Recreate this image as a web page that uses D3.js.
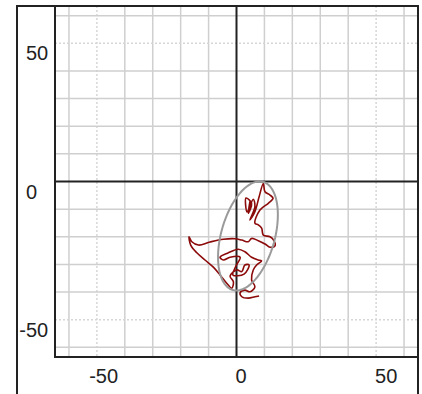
<!DOCTYPE html>
<html>
<head>
<meta charset="utf-8">
<script src="https://cdn.jsdelivr.net/npm/d3@7"></script>
<style>
  html, body { margin: 0; padding: 0; background: #fff; }
  svg { display: block; }
  text { font-family: "Liberation Sans", Arial, sans-serif; fill: #222; }
</style>
</head>
<body>
<svg id="chart" width="422" height="394"></svg>
<script>
// Centre-of-pressure trace (x, y) in mm
const traceX = [4.8, 4.2, 5.4, 3.4, 3.8, 6.0, 6.6, 4.8, 6.6, 8.1, 9.6, 10.2, 12.0, 13.1, 11.4, 8.4, 6.6, 7.8, 9.0, 9.6, 12.0, 13.4, 13.8, 12.0, 10.2, 7.8, 5.4, 4.2, 1.9, -0.5, -4.7, -9.5, -13.6, -16.0, -17.0, -16.4, -14.2, -11.3, -8.3, -5.9, -3.5, -1.7, -1.1, -2.3, 0.1, 1.9, 3.0, 4.5, 2.7, -1.3, -0.2, 1.3, -2.3, -4.7, -5.9, -2.9, 0.6, 3.0, 5.4, 7.8, 9.0, 7.2, 6.0, 5.4, 6.6, 4.8, 3.0, 1.3, 1.9, 4.2, 6.6, 8.1];
const traceY = [-7.3, -11.5, -7.9, -6.0, -11.0, -6.4, -9.1, -13.9, -10.9, -5.5, -0.7, -3.7, -4.9, -6.1, -7.9, -10.3, -15.1, -15.7, -16.9, -19.4, -20.0, -21.4, -23.3, -23.8, -22.6, -21.4, -20.6, -21.8, -21.2, -20.7, -20.9, -21.9, -23.0, -21.8, -20.0, -23.0, -25.8, -28.4, -31.0, -33.8, -36.8, -38.6, -36.3, -34.2, -32.0, -32.6, -30.2, -30.2, -33.5, -33.8, -30.6, -27.4, -27.4, -28.4, -27.4, -25.8, -24.5, -25.4, -27.4, -28.4, -28.7, -30.2, -32.0, -35.6, -38.1, -39.9, -39.3, -40.2, -41.7, -42.2, -41.7, -41.4];

// Confidence ellipse: centre, semi-axes and tilt (degrees from the vertical)
const ellipseCenter = [4.1, -19.7];
const ellipseAxes = [9.6, 20.3];
const ellipseTilt = [15.4];

// Axis ticks
const gridValues = [-60, -50, -40, -30, -20, -10, 0, 10, 20, 30, 40, 50, 60];
const labelValues = [-50, 0, 50];
const labelText = ["-50", "0", "50"];

const svg = d3.select("#chart");
const pLeft = 55, pRight = 418, pTop = 6, pBottom = 357;

const x = d3.scaleLinear().domain([-65, 65]).range([pLeft, pRight]);
const y = d3.scaleLinear().domain([-63.5, 63.5]).range([pBottom, pTop]);

// grid
const grid = svg.append("g");
const minor = gridValues.filter(v => v !== 0);
grid.selectAll("line.v").data(minor).join("line").attr("class", "v")
  .attr("x1", d => x(d)).attr("x2", d => x(d))
  .attr("y1", pTop).attr("y2", pBottom)
  .attr("stroke", d => Math.abs(d) === 50 ? "#d6d6d6" : "#cfcfcf")
  .attr("stroke-width", 1.5)
  .attr("stroke-dasharray", d => Math.abs(d) === 50 ? "2,2" : null);
grid.selectAll("line.h").data(minor).join("line").attr("class", "h")
  .attr("y1", d => y(d)).attr("y2", d => y(d))
  .attr("x1", pLeft).attr("x2", pRight)
  .attr("stroke", d => Math.abs(d) === 50 ? "#d6d6d6" : "#cfcfcf")
  .attr("stroke-width", 1.5)
  .attr("stroke-dasharray", d => Math.abs(d) === 50 ? "2,2" : null);

// zero axes
svg.append("line").attr("x1", x(0)).attr("x2", x(0)).attr("y1", pTop).attr("y2", pBottom)
  .attr("stroke", "#222").attr("stroke-width", 2);
svg.append("line").attr("x1", pLeft).attr("x2", pRight).attr("y1", y(0)).attr("y2", y(0))
  .attr("stroke", "#222").attr("stroke-width", 2);

// frames
const frame = svg.append("g").attr("stroke", "#222").attr("stroke-width", 2).attr("fill", "none");
frame.append("path").attr("d", `M17,394 V${pTop} H${pRight} V394`);
frame.append("path").attr("d", `M${pLeft},${pTop} V${pBottom} H${pRight}`);

// trace
const pts = traceX.map((v, i) => [v, traceY[i]]);
svg.append("path")
  .datum(pts)
  .attr("fill", "none")
  .attr("stroke", "#8b0a0a")
  .attr("stroke-width", 1.6)
  .attr("stroke-linejoin", "round")
  .attr("d", d3.line().x(d => x(d[0])).y(d => y(d[1])).curve(d3.curveCatmullRom.alpha(0.5)));

// ellipse
const th = ellipseTilt[0] * Math.PI / 180;
const ell = d3.range(0, 361, 3).map(a => {
  const t = a * Math.PI / 180;
  const u = ellipseAxes[0] * Math.cos(t), w = ellipseAxes[1] * Math.sin(t);
  return [ellipseCenter[0] + u * Math.cos(th) + w * Math.sin(th),
          ellipseCenter[1] - u * Math.sin(th) + w * Math.cos(th)];
});
svg.append("path")
  .datum(ell)
  .attr("fill", "none")
  .attr("stroke", "#9a9a9a")
  .attr("stroke-width", 2)
  .attr("d", d3.line().x(d => x(d[0])).y(d => y(d[1])));

// labels: the digits line up, a minus sign hangs to the left
const fs = 20, minusW = 6.7;
svg.append("g").selectAll("text").data(labelValues).join("text")
  .attr("x", d => x(d) - 1 - (d < 0 ? minusW : 0))
  .attr("y", 383)
  .attr("font-size", fs)
  .text((d, i) => labelText[i]);
svg.append("g").selectAll("text").data(labelValues).join("text")
  .attr("x", d => 26 - (d < 0 ? minusW : 0))
  .attr("y", d => y(d) + 17)
  .attr("font-size", fs)
  .text((d, i) => labelText[i]);
</script>
</body>
</html>
